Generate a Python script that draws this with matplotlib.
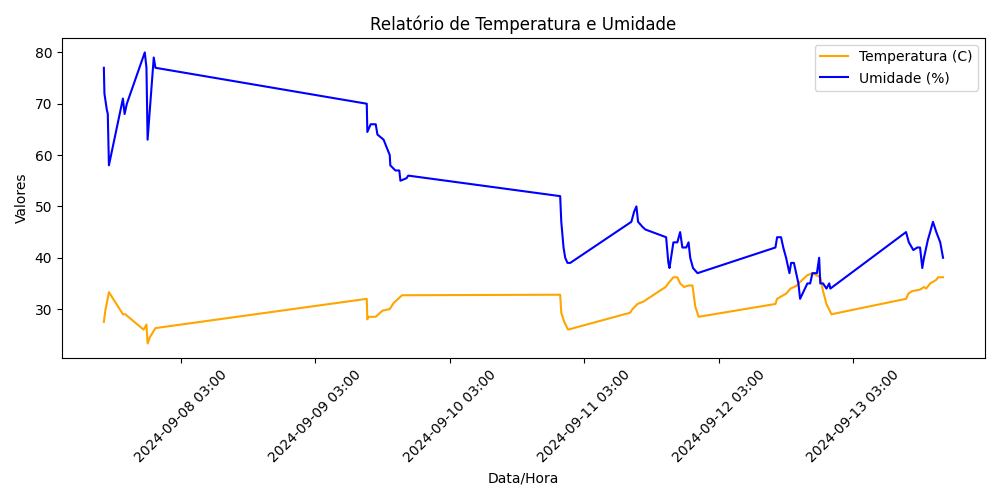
import matplotlib
matplotlib.use("Agg")
import matplotlib.pyplot as plt
import matplotlib.dates as mdates
import pandas as pd

umid_tempos = [
    "2024-09-07 13:18", "2024-09-07 13:24", "2024-09-07 13:48", "2024-09-07 14:00", "2024-09-07 14:12",
    "2024-09-07 16:42", "2024-09-07 17:00", "2024-09-07 17:24", "2024-09-07 20:36", "2024-09-07 20:54",
    "2024-09-07 21:06", "2024-09-07 22:12", "2024-09-07 22:30",
    "2024-09-09 12:12", "2024-09-09 12:18", "2024-09-09 12:54", "2024-09-09 13:48", "2024-09-09 14:06",
    "2024-09-09 15:12", "2024-09-09 16:18", "2024-09-09 16:24", "2024-09-09 17:18", "2024-09-09 18:00",
    "2024-09-09 18:12", "2024-09-09 19:18", "2024-09-09 19:36",
    "2024-09-10 22:42", "2024-09-10 22:54", "2024-09-10 23:18", "2024-09-10 23:36", "2024-09-11 00:00",
    "2024-09-11 00:30",
    "2024-09-11 11:24", "2024-09-11 11:54", "2024-09-11 12:18", "2024-09-11 12:36", "2024-09-11 13:24",
    "2024-09-11 13:54", "2024-09-11 17:36", "2024-09-11 18:00", "2024-09-11 18:12", "2024-09-11 18:54",
    "2024-09-11 19:36", "2024-09-11 20:06", "2024-09-11 20:30", "2024-09-11 21:12", "2024-09-11 21:36",
    "2024-09-11 21:54", "2024-09-11 22:24", "2024-09-11 23:12",
    "2024-09-12 13:06", "2024-09-12 13:24", "2024-09-12 14:06", "2024-09-12 14:30", "2024-09-12 15:00",
    "2024-09-12 15:36", "2024-09-12 15:54", "2024-09-12 16:24", "2024-09-12 17:12", "2024-09-12 17:30",
    "2024-09-12 18:48", "2024-09-12 19:18", "2024-09-12 19:42", "2024-09-12 20:30", "2024-09-12 20:54",
    "2024-09-12 21:06", "2024-09-12 21:36", "2024-09-12 22:12", "2024-09-12 22:42", "2024-09-12 22:54",
    "2024-09-13 12:24", "2024-09-13 12:54", "2024-09-13 13:42", "2024-09-13 14:24", "2024-09-13 14:54",
    "2024-09-13 15:18", "2024-09-13 15:36", "2024-09-13 16:18", "2024-09-13 16:42", "2024-09-13 17:12",
    "2024-09-13 17:48", "2024-09-13 18:30", "2024-09-13 19:00",
]
umidade = [
    77, 72, 69, 68, 58,
    71, 68, 70, 80, 77,
    63, 79, 77,
    70, 64.5, 66, 66, 64,
    63, 60, 58, 57, 57,
    55, 55.5, 56,
    52, 47, 42, 40, 39,
    39,
    47, 49, 50, 47, 46,
    45.5, 44, 39, 38, 43,
    43, 45, 42, 42, 43,
    40, 38, 37,
    42, 44, 44, 42, 40,
    37, 39, 39, 35, 32,
    35, 35, 37, 37, 40,
    35, 35, 34, 35, 34,
    45, 43, 41.5, 42, 42,
    38, 40, 43.5, 45, 47,
    45, 43, 40,
]

temp_tempos = [
    "2024-09-07 13:18", "2024-09-07 13:36", "2024-09-07 13:48", "2024-09-07 14:12", "2024-09-07 16:42",
    "2024-09-07 17:06", "2024-09-07 20:24", "2024-09-07 20:54", "2024-09-07 21:06", "2024-09-07 21:30",
    "2024-09-07 22:30",
    "2024-09-09 12:12", "2024-09-09 12:18", "2024-09-09 12:30", "2024-09-09 13:48", "2024-09-09 14:18",
    "2024-09-09 15:00", "2024-09-09 16:18", "2024-09-09 17:00", "2024-09-09 17:48", "2024-09-09 18:30",
    "2024-09-10 22:42", "2024-09-10 22:54", "2024-09-10 23:24", "2024-09-11 00:06",
    "2024-09-11 11:12", "2024-09-11 11:36", "2024-09-11 12:30", "2024-09-11 13:36", "2024-09-11 17:30",
    "2024-09-11 18:12", "2024-09-11 18:54", "2024-09-11 19:36", "2024-09-11 20:06", "2024-09-11 20:48",
    "2024-09-11 21:36", "2024-09-11 22:18", "2024-09-11 22:48", "2024-09-11 23:24",
    "2024-09-12 13:06", "2024-09-12 13:24", "2024-09-12 14:30", "2024-09-12 15:00", "2024-09-12 15:48",
    "2024-09-12 16:48", "2024-09-12 17:30", "2024-09-12 18:48", "2024-09-12 19:42", "2024-09-12 21:06",
    "2024-09-12 21:36", "2024-09-12 22:12", "2024-09-12 23:06",
    "2024-09-13 12:24", "2024-09-13 12:48", "2024-09-13 13:30", "2024-09-13 14:54", "2024-09-13 15:36",
    "2024-09-13 16:00", "2024-09-13 16:42", "2024-09-13 17:48", "2024-09-13 18:06", "2024-09-13 19:00",
]
temperatura = [
    27.5, 30, 31, 33.3, 29,
    29, 26, 27, 23.3, 24.5,
    26.3,
    32, 28, 28.5, 28.5, 29,
    29.7, 30, 31.2, 32, 32.7,
    32.8, 29.3, 27.6, 26,
    29.3, 30, 31, 31.5, 34.3,
    35.3, 36.2, 36.2, 35, 34.3,
    34.6, 34.6, 30.5, 28.5,
    31, 32, 32.7, 33, 34,
    34.5, 35.3, 36.6, 37, 36.2,
    33.5, 31, 29,
    32, 33, 33.5, 33.8, 34.3,
    34, 35, 35.7, 36.2, 36.2,
]

t_temp = pd.to_datetime(temp_tempos)
t_umid = pd.to_datetime(umid_tempos)

fig, ax = plt.subplots(figsize=(10, 5))
ax.plot(t_temp, temperatura, color="orange", label="Temperatura (C)")
ax.plot(t_umid, umidade, color="blue", label="Umidade (%)")
ax.set_xlabel("Data/Hora")
ax.set_ylabel("Valores")
ax.set_title("Relatório de Temperatura e Umidade")
ax.xaxis.set_major_locator(mdates.HourLocator(byhour=[3]))
ax.xaxis.set_major_formatter(mdates.DateFormatter("%Y-%m-%d %H:%M"))
plt.xticks(rotation=45)
ax.legend()
plt.tight_layout()
plt.savefig("out.png", dpi=100)
